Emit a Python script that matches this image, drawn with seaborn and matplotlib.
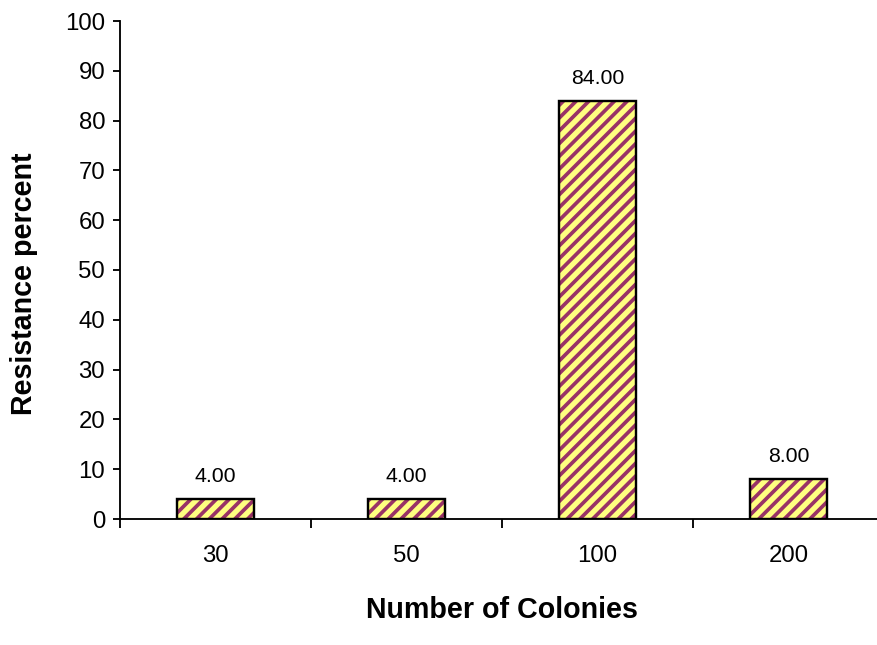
import matplotlib
matplotlib.use("Agg")
import matplotlib.pyplot as plt
import seaborn as sns
import pandas as pd
from matplotlib.patches import Rectangle

# Data
colonies = ["30", "50", "100", "200"]
resistance = [4.0, 4.0, 84.0, 8.0]
y_ticks = [0, 10, 20, 30, 40, 50, 60, 70, 80, 90, 100]

df = pd.DataFrame({"Number of Colonies": colonies, "Resistance percent": resistance})

DPI = 115


def pt(px):
    """Convert a size in pixels to points at the output resolution."""
    return px * 72.0 / DPI


sns.set_theme(style="white")
plt.rcParams["font.family"] = ["Liberation Sans", "DejaVu Sans"]
plt.rcParams["hatch.linewidth"] = pt(3.7)
plt.rcParams["text.color"] = "black"
plt.rcParams["axes.labelcolor"] = "black"
plt.rcParams["xtick.color"] = "black"
plt.rcParams["ytick.color"] = "black"

fig = plt.figure(figsize=(877 / DPI, 645 / DPI), dpi=DPI)
ax = fig.add_axes([120 / 877, 126 / 645, 764 / 877, 498 / 645])

fill_yellow = "#FFFF80"
stripe = "#993366"

sns.barplot(data=df, x="Number of Colonies", y="Resistance percent",
            order=colonies, color=fill_yellow, saturation=1,
            width=0.40, edgecolor=stripe, linewidth=0, hatch="///", ax=ax)

# black outline on top of each hatched bar
for p in list(ax.patches):
    ax.add_patch(Rectangle((p.get_x(), p.get_y()), p.get_width(), p.get_height(),
                           fill=False, edgecolor="black", linewidth=pt(2.4), zorder=3))

ax.bar_label(ax.containers[0], fmt="%.2f", padding=pt(13), fontsize=pt(21.2), color="black")

ax.set_xlim(-0.5, 3.5)
ax.set_ylim(0, 100)
ax.set_yticks(y_ticks)
ax.tick_params(axis="y", labelsize=pt(24), length=pt(7.4), width=pt(1.85), left=True, pad=pt(7.4))

# category labels centred, tick marks between categories
ax.set_xticks(range(len(colonies)))
ax.set_xticklabels(colonies, fontsize=pt(24))
ax.tick_params(axis="x", which="major", length=0, pad=pt(26))
ax.set_xticks([-0.5, 0.5, 1.5, 2.5, 3.5], minor=True)
ax.tick_params(axis="x", which="minor", length=pt(9), width=pt(1.85), bottom=True)

for side in ["top", "right"]:
    ax.spines[side].set_visible(False)
for side in ["left", "bottom"]:
    ax.spines[side].set_color("black")
    ax.spines[side].set_linewidth(pt(1.85))

ax.set_xlabel("Number of Colonies", fontsize=pt(28.6), fontweight="bold", labelpad=pt(29))
ax.set_ylabel("Resistance percent", fontsize=pt(28.6), fontweight="bold")
ax.yaxis.set_label_coords(-0.107, 0.473)

fig.savefig("out.png", dpi=DPI, facecolor="white")
